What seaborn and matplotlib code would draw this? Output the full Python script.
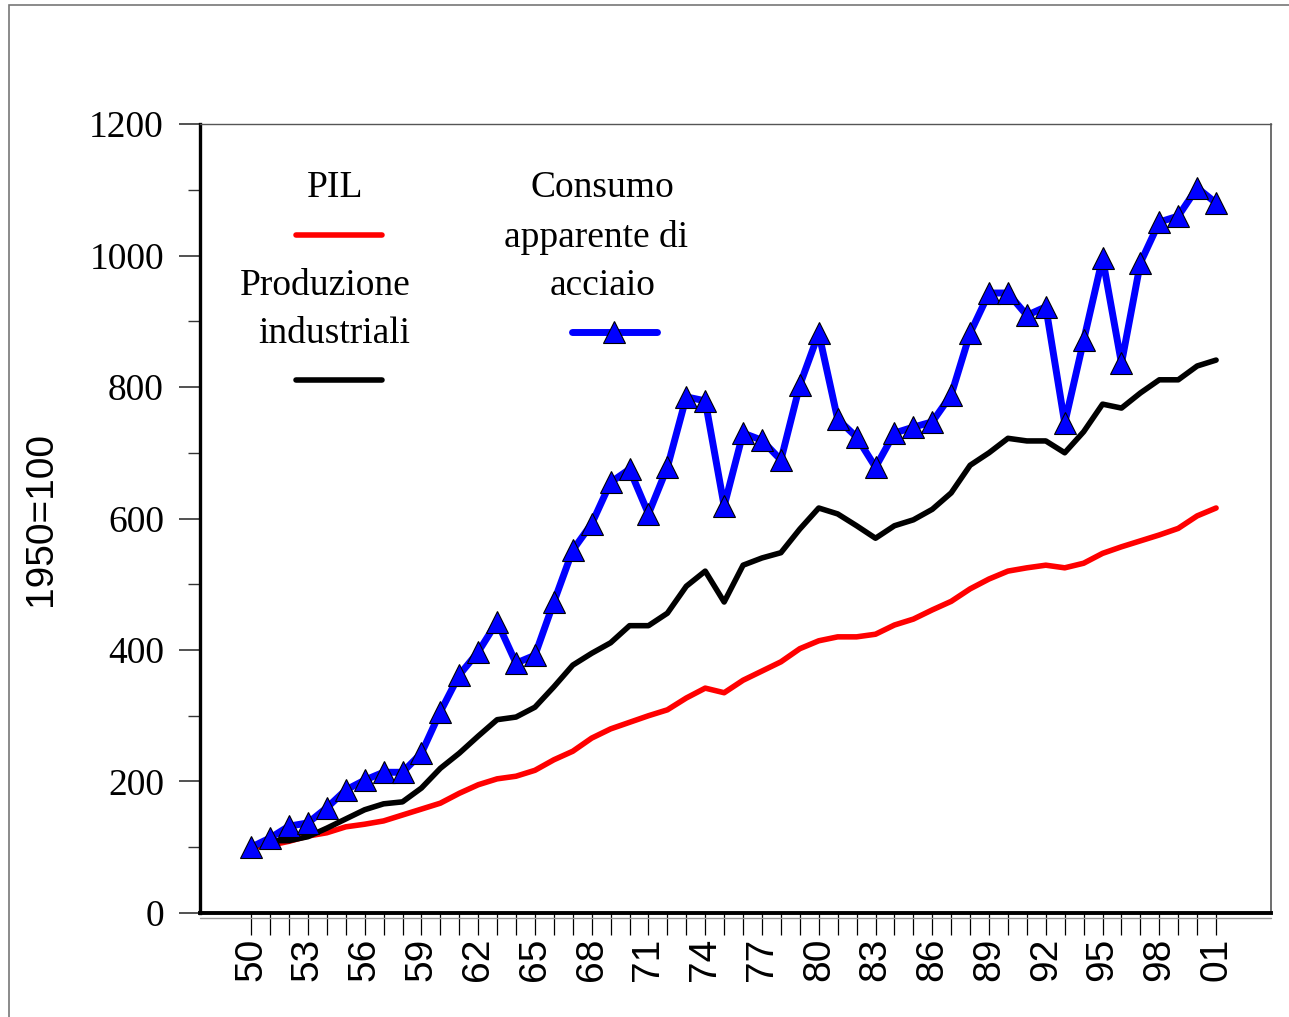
import matplotlib
matplotlib.use("Agg")
import matplotlib.pyplot as plt
import matplotlib.patches as mpatches
from matplotlib.lines import Line2D
from matplotlib.ticker import MultipleLocator
import pandas as pd
import seaborn as sns

sns.set_style("white")
plt.rcParams["font.family"] = ["Liberation Serif", "DejaVu Serif"]
plt.rcParams["text.color"] = "black"
plt.rcParams["axes.labelcolor"] = "black"
plt.rcParams["xtick.labelcolor"] = "black"
plt.rcParams["ytick.labelcolor"] = "black"

years = list(range(1950, 2002))

pil = [100, 103, 109, 117, 122, 131, 135, 140, 149, 158,
       167, 182, 195, 204, 208, 217, 233, 246, 266, 280,
       290, 300, 309, 327, 342, 335, 354, 368, 382, 402,
       414, 420, 420, 424, 438, 447, 461, 474, 493, 508,
       520, 525, 529, 525, 532, 547, 557, 566, 575, 585,
       604, 616]

produzione = [100, 110, 110, 116, 129, 143, 157, 166, 169, 190,
              220, 243, 269, 294, 298, 313, 344, 377, 395, 411,
              437, 437, 456, 497, 520, 473, 529, 540, 548, 584,
              616, 607, 589, 570, 589, 598, 614, 639, 681, 700,
              722, 718, 718, 700, 732, 774, 768, 791, 811, 811,
              832, 841]

acciaio = [100, 114, 132, 137, 160, 187, 202, 214, 214, 243,
           306, 362, 397, 443, 380, 392, 473, 552, 592, 655,
           675, 607, 678, 785, 779, 619, 730, 719, 689, 803,
           882, 751, 724, 678, 730, 739, 747, 788, 882, 943,
           943, 909, 922, 745, 871, 996, 836, 989, 1051, 1060,
           1103, 1080]

tick_labels = [f"{y % 100:02d}" if (y - 1950) % 3 == 0 or y == 2001 else "" for y in years]

df = pd.DataFrame({"anno": years, "PIL": pil,
                   "Produzione industriali": produzione,
                   "Consumo apparente di acciaio": acciaio})

fig = plt.figure(figsize=(12.89, 10.17), dpi=100)
ax = fig.add_axes([0.1552, 0.1023, 0.8308, 0.7757])

# outer frame
fig.patches.append(mpatches.Rectangle((9 / 1289, -0.01), 1.02, 1.01 - 5 / 1017,
                                      transform=fig.transFigure, fill=False,
                                      edgecolor="#777777", linewidth=1.2))

red_lw, black_lw, blue_lw = 4.0, 4.0, 5.0
tri = dict(marker="^", markersize=16, markerfacecolor="#0000ff",
           markeredgecolor="black", markeredgewidth=0.8)

sns.lineplot(data=df, x="anno", y="PIL", ax=ax, color="#ff0000", linewidth=red_lw)
sns.lineplot(data=df, x="anno", y="Produzione industriali", ax=ax,
             color="#000000", linewidth=black_lw)
sns.lineplot(data=df, x="anno", y="Consumo apparente di acciaio", ax=ax,
             color="#0000ff", linewidth=blue_lw, **tri)

ax.set_xlim(1947.3, 2003.9)
ax.set_ylim(0, 1200)
ax.set_xlabel("")
ax.set_ylabel("1950=100", family=["Liberation Sans", "DejaVu Sans"],
              fontsize=28, labelpad=22)

ax.set_xticks(years)
ax.set_xticklabels(tick_labels, rotation=90, family=["Liberation Sans", "DejaVu Sans"],
                   fontsize=28)
ax.tick_params(axis="x", direction="out", length=16, width=0.9, pad=2,
               bottom=True, color="black")

ax.yaxis.set_major_locator(MultipleLocator(200))
ax.yaxis.set_minor_locator(MultipleLocator(100))
ax.tick_params(axis="y", which="major", direction="out", length=15, width=1.2,
               labelsize=27, pad=11, left=True, color="#333333")
ax.tick_params(axis="y", which="minor", direction="out", length=9, width=1.0,
               left=True, color="#333333")

ax.spines["left"].set_linewidth(2.4)
ax.spines["left"].set_color("black")
ax.spines["bottom"].set_linewidth(2.8)
ax.spines["bottom"].set_color("black")
ax.spines["top"].set_linewidth(1.0)
ax.spines["top"].set_color("#555555")
ax.spines["right"].set_linewidth(1.2)
ax.spines["right"].set_color("#555555")

# shadow under the bottom axis
ax.add_line(Line2D([0, 1], [-0.006, -0.006], transform=ax.transAxes,
                   color="#999999", linewidth=1.0, clip_on=False))

# hand-placed legend
tr = ax.transAxes
def ax_x(px):
    return (px - 200) / 1071
def ax_y(py):
    return (913 - py) / 789

ax.text(ax_x(335), ax_y(188), "PIL", transform=tr, fontsize=27,
        ha="center", va="center")
ax.add_line(Line2D([ax_x(296), ax_x(382)], [ax_y(235), ax_y(235)], transform=tr,
                   color="#ff0000", linewidth=red_lw, solid_capstyle="round"))
ax.text(ax_x(325), ax_y(286), "Produzione", transform=tr, fontsize=27,
        ha="center", va="center")
ax.text(ax_x(334), ax_y(334), "industriali", transform=tr, fontsize=27,
        ha="center", va="center")
ax.add_line(Line2D([ax_x(296), ax_x(382)], [ax_y(380), ax_y(380)], transform=tr,
                   color="#000000", linewidth=black_lw, solid_capstyle="round"))
ax.text(ax_x(602), ax_y(188), "Consumo", transform=tr, fontsize=27,
        ha="center", va="center")
ax.text(ax_x(596), ax_y(237), "apparente di", transform=tr, fontsize=27,
        ha="center", va="center")
ax.text(ax_x(603), ax_y(286), "acciaio", transform=tr, fontsize=27,
        ha="center", va="center")
ax.add_line(Line2D([ax_x(572), ax_x(657)], [ax_y(332), ax_y(332)], transform=tr,
                   color="#0000ff", linewidth=blue_lw, solid_capstyle="round"))
ax.add_line(Line2D([ax_x(614)], [ax_y(332)], transform=tr, linestyle="none", **tri))

fig.savefig("out.png", dpi=100)
